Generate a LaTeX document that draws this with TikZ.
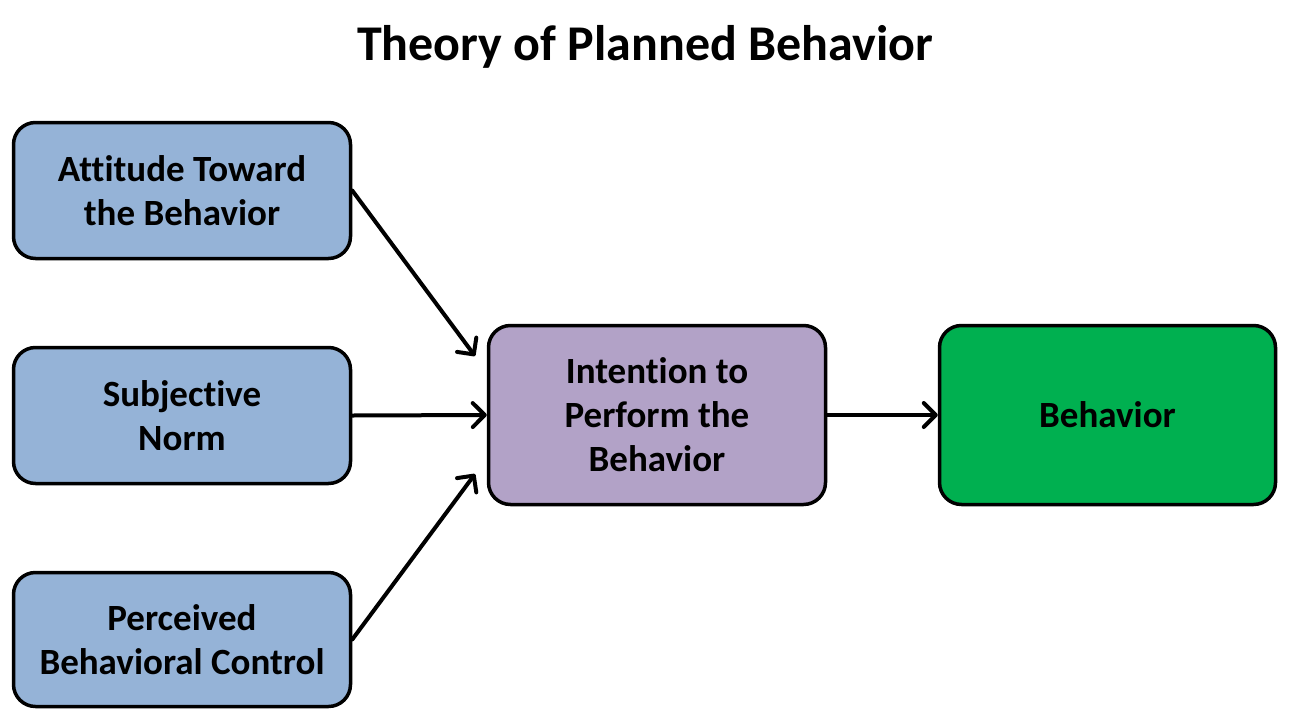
\documentclass[tikz,border=0pt]{standalone}
\usepackage{fontspec}
\setmainfont{Carlito}[Ligatures={NoCommon}]
\usetikzlibrary{arrows.meta}
\definecolor{boxblue}{HTML}{95B3D7}
\definecolor{boxpurple}{HTML}{B2A2C7}
\definecolor{boxgreen}{HTML}{00B050}
\tikzset{
  box/.style={draw=black, line width=3.5pt, rounded corners=22pt, minimum width=337pt, align=center,
    font=\fontsize{37}{44}\selectfont\bfseries, inner sep=0pt},
  conn/.style={line width=4pt, line cap=round, -{Straight Barb[length=12pt,width=24pt,line cap=round,line join=round]}}
}
\begin{document}
\begin{tikzpicture}[x=1pt,y=-1pt]
\useasboundingbox (0,0) rectangle (1289,712);
\node[font=\fontsize{50}{58}\selectfont\bfseries] (title) at (645,47) {Theory of Planned Behavior};
\node[box, fill=boxblue, minimum height=136pt] (att) at (182,190.5) {Attitude Toward\\the Behavior};
\node[box, fill=boxblue, minimum height=136pt] (sub) at (182,415.5) {Subjective\\Norm};
\node[box, fill=boxblue, minimum height=134pt] (per) at (182,639.5) {Perceived\\Behavioral Control};
\node[box, fill=boxpurple, minimum height=179pt] (int) at (657,415) {Intention to\\Perform the\\Behavior};
\node[box, fill=boxgreen, minimum height=179pt, minimum width=336pt] (beh) at (1107.5,415) {Behavior};
\coordinate (a1) at (475,356);
\coordinate (a3) at (475,474);
\draw[conn] (att.east) -- (a1);
\draw[conn] (sub.east) -- (int.west);
\draw[conn] (per.east) -- (a3);
\draw[conn] (int.east) -- (beh.west);
\end{tikzpicture}
\end{document}
